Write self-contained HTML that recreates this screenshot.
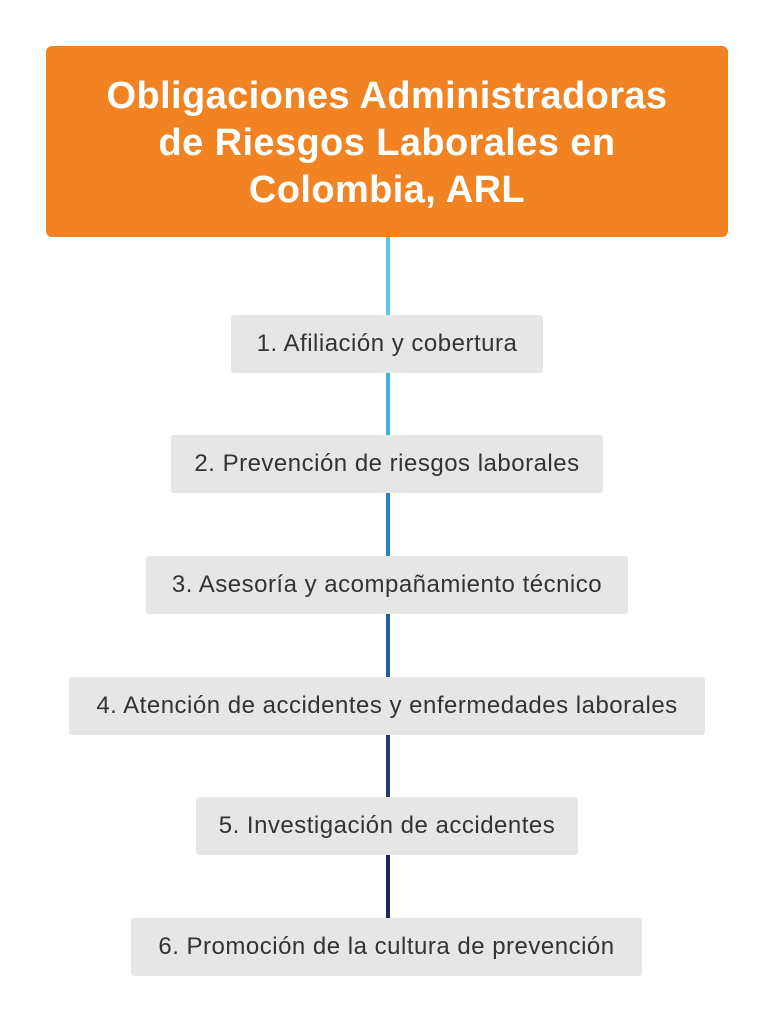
<!DOCTYPE html>
<html><head><meta charset="utf-8"><style>
body{margin:0;width:775px;height:1024px;background:#fff;position:relative;font-family:"Liberation Sans",sans-serif;overflow:hidden}
.t{position:absolute;left:46px;top:46px;width:682px;height:191px;box-sizing:border-box;padding-top:4px;background:#F28322;border-radius:6px;color:#fff;font-weight:bold;font-size:38px;line-height:47px;text-align:center;display:flex;align-items:center;justify-content:center;letter-spacing:0.4px}
.b{position:absolute;height:58px;background:#E6E6E6;border-radius:3px;color:#333;font-size:24px;display:flex;align-items:center;justify-content:center;white-space:nowrap;letter-spacing:0.5px}
.l{position:absolute;left:386px;width:4px}
</style></head><body>
<div class="l" style="top:237px;height:78px;background:#5CC6EE"></div>
<div class="l" style="top:373px;height:62px;background:#3FAEE0"></div>
<div class="l" style="top:493px;height:63px;background:#2B82C2"></div>
<div class="l" style="top:614px;height:63px;background:#1F5E98"></div>
<div class="l" style="top:735px;height:62px;background:#243B70"></div>
<div class="l" style="top:855px;height:63px;background:#1C2A58"></div>
<div class="t"><div>Obligaciones Administradoras<br>de Riesgos Laborales en<br>Colombia, ARL</div></div>
<div class="b" style="left:231px;width:312px;top:315px">1. Afiliación y cobertura</div>
<div class="b" style="left:171px;width:432px;top:435px">2. Prevención de riesgos laborales</div>
<div class="b" style="left:146px;width:482px;top:556px">3. Asesoría y acompañamiento técnico</div>
<div class="b" style="left:69px;width:636px;top:677px">4. Atención de accidentes y enfermedades laborales</div>
<div class="b" style="left:196px;width:382px;top:797px">5. Investigación de accidentes</div>
<div class="b" style="left:131px;width:511px;top:918px">6. Promoción de la cultura de prevención</div>
</body></html>
